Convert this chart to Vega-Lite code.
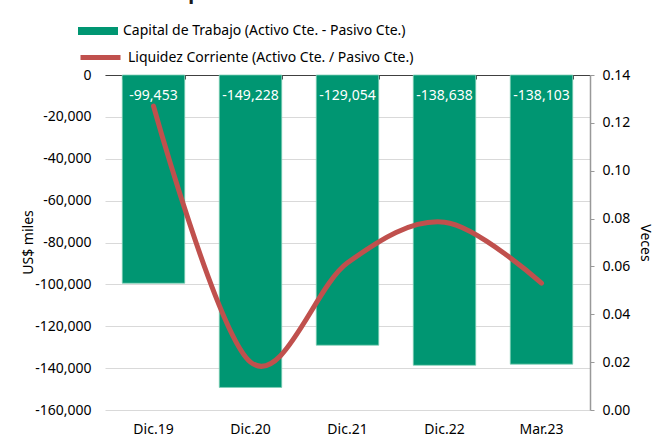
{
  "$schema": "https://vega.github.io/schema/vega-lite/v6.json",
  "autosize": {"type": "none"},
  "padding": {"left": 105, "top": 75, "right": 76, "bottom": 30},
  "width": 485,
  "height": 335,
  "background": "white",
  "config": {
    "font": "Noto Sans",
    "view": {"stroke": null},
    "locale": {"number": {"decimal": ".", "thousands": ",", "grouping": [3], "currency": ["$", ""], "minus": "-"}}
  },
  "title": {"text": "Indicadores de Liquidez", "anchor": "start", "frame": "group", "fontSize": 20, "fontWeight": "bold", "color": "#1a1a1a", "dx": -93, "offset": 0, "dy": 8, "baseline": "alphabetic"},
  "data": {"values": [
    {"periodo": "Dic.19", "capital": -99453, "liquidez": 0.127},
    {"periodo": "Dic.20", "capital": -149228, "liquidez": 0.020},
    {"periodo": "Dic.21", "capital": -129054, "liquidez": 0.0615},
    {"periodo": "Dic.22", "capital": -138638, "liquidez": 0.0785},
    {"periodo": "Mar.23", "capital": -138103, "liquidez": 0.053}
  ]},
  "layer": [
    {
      "layer": [
        {
          "mark": {"type": "bar", "stroke": "#7fcfb5", "strokeWidth": 0.75},
          "encoding": {
            "x": {"field": "periodo", "type": "nominal", "sort": null,
              "scale": {"paddingInner": 0.356, "paddingOuter": 0.178},
              "axis": {"orient": "bottom", "title": null, "domain": false, "ticks": false, "labelAngle": 0, "labelFontSize": 14, "labelColor": "#000", "labelPadding": 12}},
            "y": {"field": "capital", "type": "quantitative",
              "scale": {"domain": [-160000, 0], "nice": false},
              "axis": {"title": "US$ miles", "titleFontSize": 14, "titleFontWeight": "normal", "titleColor": "#000", "titleX": -70, "titleY": 167,
                "values": [0, -20000, -40000, -60000, -80000, -100000, -120000, -140000, -160000],
                "labelExpr": "format(datum.value, ',')", "labelFontSize": 14, "labelColor": "#000", "labelPadding": 14,
                "domain": false, "ticks": false, "grid": true, "gridColor": "#d9d9d9", "gridWidth": 1}},
            "fill": {"datum": "Capital de Trabajo (Activo Cte. - Pasivo Cte.)", "type": "nominal",
              "scale": {"range": ["#009672"]},
              "legend": {"orient": "none", "legendX": -27, "legendY": -64, "title": null, "labelLimit": 400,
                "symbolType": "M-1,-0.2H1V0.2H-1Z", "symbolSize": 1600, "symbolStrokeWidth": 0,
                "labelFontSize": 14, "labelColor": "#000", "labelOffset": 5}}
          }
        },
        {
          "mark": {"type": "text", "color": "white", "baseline": "middle", "dy": 21, "fontSize": 14},
          "encoding": {
            "x": {"field": "periodo", "type": "nominal", "sort": null},
            "y": {"datum": 0, "type": "quantitative"},
            "text": {"field": "capital", "type": "quantitative", "format": ","}
          }
        }
      ]
    },
    {
      "mark": {"type": "line", "strokeWidth": 5, "interpolate": "cardinal", "tension": 0, "strokeCap": "round"},
      "encoding": {
        "x": {"field": "periodo", "type": "nominal", "sort": null,
          "axis": {"orient": "bottom", "offset": -335, "title": null, "labels": false, "domain": true, "domainColor": "#404040", "domainWidth": 1,
            "ticks": true, "tickBand": "extent", "tickColor": "#404040", "tickSize": 4, "grid": false}},
        "y": {"field": "liquidez", "type": "quantitative",
          "scale": {"domain": [0, 0.14], "nice": false},
          "axis": {"orient": "right", "title": "Veces", "titleFontSize": 14, "titleFontWeight": "normal", "titleColor": "#000", "titlePadding": 8,
            "values": [0, 0.02, 0.04, 0.06, 0.08, 0.1, 0.12, 0.14], "format": ".2f",
            "labelFontSize": 14, "labelColor": "#000", "labelPadding": 8,
            "domain": true, "domainColor": "#999", "domainWidth": 1.5, "ticks": true, "tickColor": "#999", "tickSize": 4, "grid": false}},
        "stroke": {"datum": "Liquidez Corriente (Activo Cte. / Pasivo Cte.)", "type": "nominal",
          "scale": {"range": ["#c0504d"]},
          "legend": {"orient": "none", "legendX": -27, "legendY": -40, "title": null, "labelLimit": 400,
            "symbolType": "stroke", "symbolSize": 1600, "symbolStrokeWidth": 5,
            "labelFontSize": 14, "labelColor": "#000", "labelOffset": 5}}
      }
    }
  ],
  "resolve": {"scale": {"y": "independent"}, "axis": {"x": "independent"}}
}
